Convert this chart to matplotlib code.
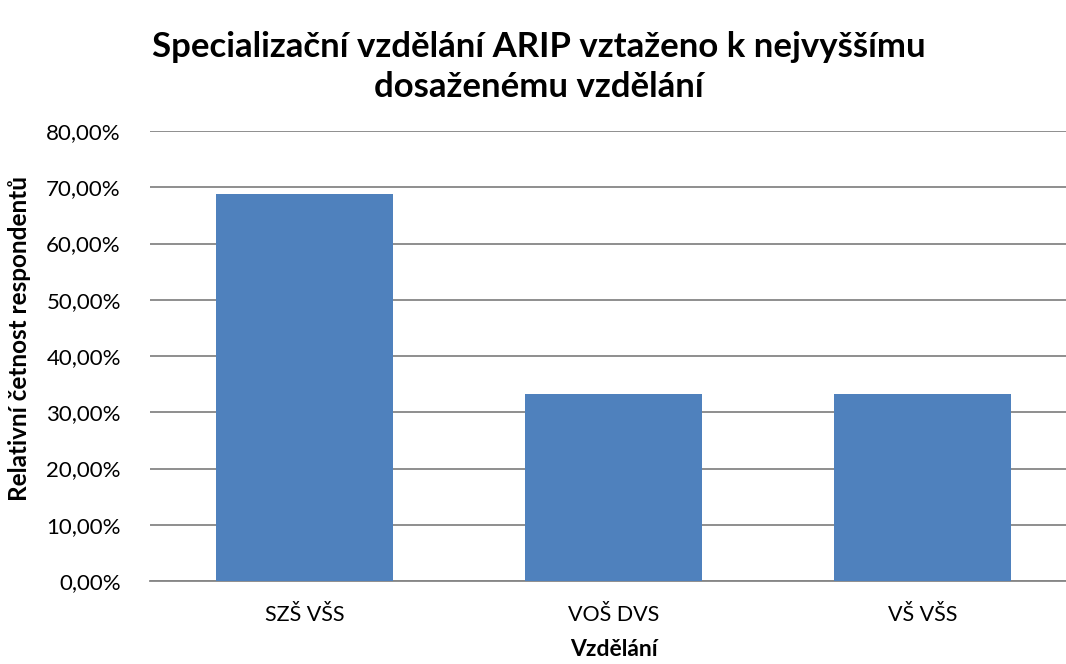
import matplotlib.pyplot as plt
import numpy as np

categories = ['SZŠ VŠS', 'VOŠ DVS', 'VŠ VŠS']
values = [68.75, 33.33, 33.33]
yticks = [0, 10, 20, 30, 40, 50, 60, 70, 80]

plt.rcParams['font.family'] = ['Lato', 'DejaVu Sans']

fig = plt.figure(figsize=(10.66, 6.64), dpi=100)
# plot area runs past the right edge like in the original
ax = fig.add_axes([0.1407, 0.125, 0.8696, 0.6777])

x = np.arange(len(categories))
ax.bar(x, values, width=0.57, color='#4f81bd', zorder=3)

ax.set_xlim(-0.5, len(categories) - 0.5)
ax.set_ylim(0, 80)
ax.set_yticks(yticks)
ax.set_yticklabels([f'{v},00%' for v in yticks], fontsize=16)
ax.set_xticks(x)
ax.set_xticklabels(categories, fontsize=15.5)
ax.tick_params(axis='y', length=0, pad=21)
ax.tick_params(axis='x', length=0, pad=17)

ax.grid(axis='y', color='#868686', linewidth=1.3, zorder=0)
for s in ['top', 'right', 'left']:
    ax.spines[s].set_visible(False)
ax.spines['bottom'].set_color('#868686')
ax.spines['bottom'].set_linewidth(1.3)

ax.set_xlabel('Vzdělání', fontsize=16.5, fontweight='bold', labelpad=10)
ax.set_ylabel('Relativní četnost respondentů', fontsize=17.5, fontweight='bold')
ax.yaxis.set_label_coords(-0.128, 0.54)

fig.suptitle('Specializační vzdělání ARIP vztaženo k nejvyššímu\ndosaženému vzdělání',
             x=0.505, y=0.953, fontsize=25, fontweight='bold', linespacing=1.3)

fig.savefig('out.png', dpi=100, facecolor='white')
